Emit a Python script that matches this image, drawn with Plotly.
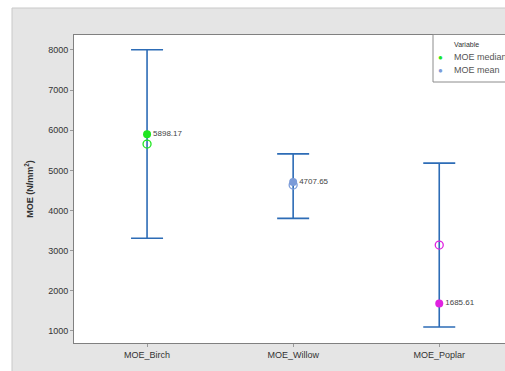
import plotly.graph_objects as go

# Wood species and MOE statistics (N/mm²)
categories = ["MOE_Birch", "MOE_Willow", "MOE_Poplar"]
labelled_value = [5898.17, 4707.65, 1685.61]   # filled markers with value label
other_value = [5655, 4635, 3140]                # open markers
range_low = [3310, 3805, 1100]
range_high = [8005, 5410, 5180]
point_colors = ["#1fe51f", "#7b9bd8", "#e022e0"]

y_ticks = [1000, 2000, 3000, 4000, 5000, 6000, 7000, 8000]

x_pos = list(range(len(categories)))
font_family = "Liberation Sans, Arial, sans-serif"

fig = go.Figure()

# Min-max whiskers, centred on the labelled value
fig.add_trace(go.Scatter(
    x=x_pos, y=labelled_value, mode="markers",
    marker=dict(size=1, color="rgba(0,0,0,0)"),
    error_y=dict(type="data", symmetric=False,
                 array=[h - v for h, v in zip(range_high, labelled_value)],
                 arrayminus=[v - l for v, l in zip(labelled_value, range_low)],
                 color="#2d6cb6", thickness=1.6, width=16),
    showlegend=False, hoverinfo="skip",
))

# Open markers
fig.add_trace(go.Scatter(
    x=x_pos, y=other_value, mode="markers",
    marker=dict(symbol="circle-open", size=8, color=point_colors,
                line=dict(width=1.3, color=point_colors)),
    showlegend=False,
))

# Filled markers with value labels
fig.add_trace(go.Scatter(
    x=x_pos, y=labelled_value, mode="markers+text",
    marker=dict(symbol="circle", size=8, color=point_colors),
    text=[f"{v:.2f}" for v in labelled_value],
    textposition="middle right",
    textfont=dict(size=8, color="#444444", family=font_family),
    showlegend=False,
))

W, H = 505, 371
ml, mt, mb = 74, 35, 28
pw, ph = W - ml, H - mt - mb


def px_x(p):
    return (p - ml) / pw


def px_y(p):
    return (H - mb - p) / ph


shapes = [
    # white strips outside the grey panel
    dict(type="rect", xref="paper", yref="paper", x0=px_x(-5), x1=px_x(W + 5),
         y0=px_y(8), y1=px_y(-5), fillcolor="white", line=dict(width=0), layer="above"),
    dict(type="rect", xref="paper", yref="paper", x0=px_x(-5), x1=px_x(12),
         y0=px_y(H + 5), y1=px_y(-5), fillcolor="white", line=dict(width=0), layer="above"),
    dict(type="line", xref="paper", yref="paper", x0=px_x(12), x1=px_x(W + 5),
         y0=px_y(8), y1=px_y(8), line=dict(color="#c9c9c9", width=1)),
    dict(type="line", xref="paper", yref="paper", x0=px_x(12), x1=px_x(12),
         y0=px_y(8), y1=px_y(H + 5), line=dict(color="#c9c9c9", width=1)),
    # legend box
    dict(type="rect", xref="paper", yref="paper", x0=px_x(433), x1=px_x(W + 40),
         y0=px_y(82), y1=px_y(34.5), fillcolor="white",
         line=dict(color="#8c8c8c", width=1), layer="above"),
]

legend_items = [("Variable", None, 44), ("MOE median", point_colors[0], 57.5),
                ("MOE mean", point_colors[1], 70)]
annotations = []
for label, col, ypx in legend_items:
    if col is None:
        annotations.append(dict(xref="paper", yref="paper", x=px_x(452), y=px_y(ypx),
                                text=label, showarrow=False, xanchor="left",
                                yanchor="middle",
                                font=dict(size=7, color="#333333", family=font_family)))
    else:
        annotations.append(dict(xref="paper", yref="paper", x=px_x(440), y=px_y(ypx),
                                text="●", showarrow=False, xanchor="center",
                                yanchor="middle",
                                font=dict(size=8, color=col, family=font_family)))
        annotations.append(dict(xref="paper", yref="paper", x=px_x(452), y=px_y(ypx),
                                text=label, showarrow=False, xanchor="left",
                                yanchor="middle",
                                font=dict(size=9, color="#555555", family=font_family)))

fig.update_layout(
    width=W, height=H,
    margin=dict(l=ml, r=0, t=mt, b=mb, pad=0),
    paper_bgcolor="#e5e5e5", plot_bgcolor="white",
    font=dict(family=font_family, size=9, color="#333333"),
    shapes=shapes, annotations=annotations,
    showlegend=False,
)
fig.update_xaxes(
    tickmode="array", tickvals=x_pos, ticktext=categories,
    range=[-0.5, 2.45], showgrid=False, zeroline=False,
    showline=True, linecolor="#808080", linewidth=1, mirror=True,
    ticks="outside", ticklen=3, tickcolor="#9a9a9a",
    tickfont=dict(size=9, color="#333333"),
)
fig.update_yaxes(
    tickmode="array", tickvals=y_ticks, ticktext=[str(t) for t in y_ticks],
    range=[700, 8372], showgrid=False, zeroline=False,
    showline=True, linecolor="#808080", linewidth=1, mirror=False,
    ticks="outside", ticklen=3, tickcolor="#9a9a9a",
    tickfont=dict(size=9, color="#333333"),
    title=dict(text="<b>MOE (N/mm<sup>2</sup>)</b>", standoff=13,
               font=dict(size=9, color="#333333")),
)

fig.write_html("out.html")
